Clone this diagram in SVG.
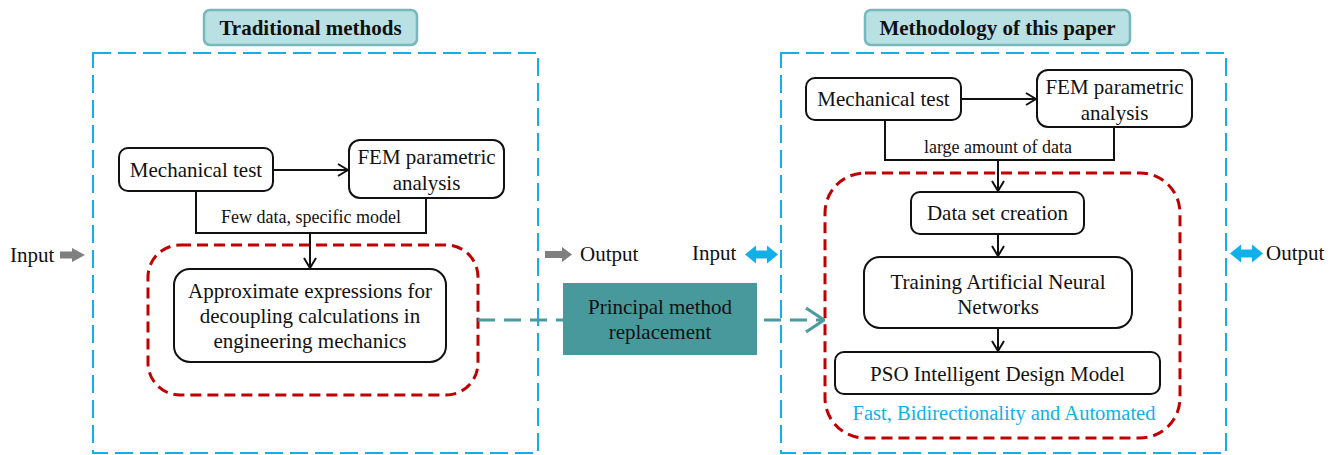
<svg xmlns="http://www.w3.org/2000/svg" width="1338" height="455" viewBox="0 0 1338 455" font-family="'Liberation Serif', 'Times New Roman', Times, serif">
<defs>
<style>
text{fill:#111;}
.t{font-size:21px;text-anchor:middle;}
.lbl{font-size:18px;text-anchor:middle;}
.title{font-size:21px;font-weight:bold;text-anchor:middle;}
.io{font-size:21px;}
.node{fill:#fff;stroke:#111;stroke-width:2;}
.tbox{fill:#b9e1e4;stroke:#76b8bd;stroke-width:2.5;}
.blue{fill:none;stroke:#12b0ea;stroke-width:2;stroke-dasharray:18 7;}
.red{fill:none;stroke:#c00000;stroke-width:3;stroke-dasharray:11 6;}
.con{fill:none;stroke:#111;stroke-width:2;}
.teal{fill:none;stroke:#4a9a9e;stroke-width:3;stroke-dasharray:17 9;}
.gray{fill:#7f7f7f;}
.darr{fill:#12b0ea;}
</style>
<marker id="ah" viewBox="0 0 12 14" refX="11" refY="7" markerWidth="12" markerHeight="14" markerUnits="userSpaceOnUse" orient="auto">
<path d="M1,1 L11,7 L1,13" fill="none" stroke="#111" stroke-width="2"/>
</marker>
<marker id="ahT" viewBox="0 0 20 26" refX="19" refY="13" markerWidth="20" markerHeight="26" markerUnits="userSpaceOnUse" orient="auto">
<path d="M1,1 L19,13 L1,25" fill="none" stroke="#4a9a9e" stroke-width="3"/>
</marker>
</defs>
<rect width="1338" height="455" fill="#fff"/>

<!-- frames -->
<g id="frame-left">
<rect class="blue" x="93" y="53" width="445" height="400"/>
<rect class="red" x="148" y="245" width="330" height="150" rx="32"/>
</g>
<g id="frame-right">
<rect class="blue" x="781" y="53" width="445" height="400"/>
<rect class="red" x="825" y="173" width="355" height="265" rx="40"/>
</g>

<g id="title-left">
<rect class="tbox" x="204" y="10" width="213" height="35" rx="6"/>
<text class="title" x="310.5" y="35">Traditional methods</text>
</g>
<g id="title-right">
<rect class="tbox" x="865" y="10" width="265" height="35" rx="6"/>
<text class="title" x="997.5" y="35">Methodology of this paper</text>
</g>

<!-- connectors -->
<g id="connectors">
<line class="con" x1="273" y1="170" x2="348" y2="170" marker-end="url(#ah)"/>
<polyline class="con" points="196,191 196,233 426,233 426,198"/>
<line class="con" x1="310" y1="233" x2="310" y2="268" marker-end="url(#ah)"/>
<line class="con" x1="961" y1="99" x2="1036" y2="99" marker-end="url(#ah)"/>
<polyline class="con" points="885,120 885,160 1114,160 1114,127"/>
<line class="con" x1="998" y1="160" x2="998" y2="191" marker-end="url(#ah)"/>
<line class="con" x1="998" y1="234" x2="998" y2="256" marker-end="url(#ah)"/>
<line class="con" x1="998" y1="328" x2="998" y2="351" marker-end="url(#ah)"/>
<line class="teal" x1="478" y1="320" x2="824" y2="320" marker-end="url(#ahT)"/>
</g>
<g id="connector-labels">
<text class="lbl" x="311" y="223">Few data, specific model</text>
<text class="lbl" x="998" y="153">large amount of data</text>
</g>

<!-- left nodes -->
<g id="mech-test-left">
<rect class="node" x="119" y="148" width="154" height="43" rx="9"/>
<text class="t" x="196" y="177">Mechanical test</text>
</g>
<g id="fem-left">
<rect class="node" x="349" y="140" width="155" height="58" rx="11"/>
<text class="t" x="426.5" y="164">FEM parametric</text>
<text class="t" x="426.5" y="190">analysis</text>
</g>
<g id="approx">
<rect class="node" x="174" y="269" width="272" height="93" rx="16"/>
<text class="t" x="310" y="298">Approximate expressions for</text>
<text class="t" x="310" y="323">decoupling calculations in</text>
<text class="t" x="310" y="348">engineering mechanics</text>
</g>

<!-- middle -->
<g id="principal">
<rect x="563" y="283" width="194" height="72" fill="#47999c"/>
<text class="t" x="660" y="314">Principal method</text>
<text class="t" x="660" y="339">replacement</text>
</g>

<!-- right nodes -->
<g id="mech-test-right">
<rect class="node" x="806" y="78" width="155" height="42" rx="9"/>
<text class="t" x="883.5" y="106">Mechanical test</text>
</g>
<g id="fem-right">
<rect class="node" x="1037" y="70" width="155" height="57" rx="11"/>
<text class="t" x="1114.5" y="94">FEM parametric</text>
<text class="t" x="1114.5" y="120">analysis</text>
</g>
<g id="dataset">
<rect class="node" x="911" y="192" width="173" height="42" rx="9"/>
<text class="t" x="997.5" y="220">Data set creation</text>
</g>
<g id="ann">
<rect class="node" x="864" y="257" width="268" height="71" rx="16"/>
<text class="t" x="998" y="289">Training Artificial Neural</text>
<text class="t" x="998" y="314">Networks</text>
</g>
<g id="pso">
<rect class="node" x="835" y="352" width="325" height="42" rx="9"/>
<text class="t" x="997.5" y="381">PSO Intelligent Design Model</text>
</g>
<g id="fast">
<text x="1004" y="420" font-size="20.5" text-anchor="middle" style="fill:#12b0ea">Fast, Bidirectionality and Automated</text>
</g>

<!-- IO -->
<g id="io-left">
<text class="io" x="10" y="262">Input</text>
<path class="gray" d="M60,251.5 H72 V248 L85,255 L72,262 V258.5 H60 Z"/>
<path class="gray" d="M545,251 H562 V247 L572,254.5 L562,262 V258 H545 Z"/>
<text class="io" x="580" y="261">Output</text>
</g>
<g id="io-right">
<text class="io" x="692" y="260">Input</text>
<path class="darr" d="M745,254.5 L756,245.5 V250.5 H767 V245.5 L778,254.5 L767,263.5 V258.5 H756 V263.5 Z"/>
<path class="darr" d="M1230,253.5 L1241,244.5 V249.5 H1252 V244.5 L1263,253.5 L1252,262.5 V257.5 H1241 V262.5 Z"/>
<text class="io" x="1266" y="260">Output</text>
</g>
</svg>
